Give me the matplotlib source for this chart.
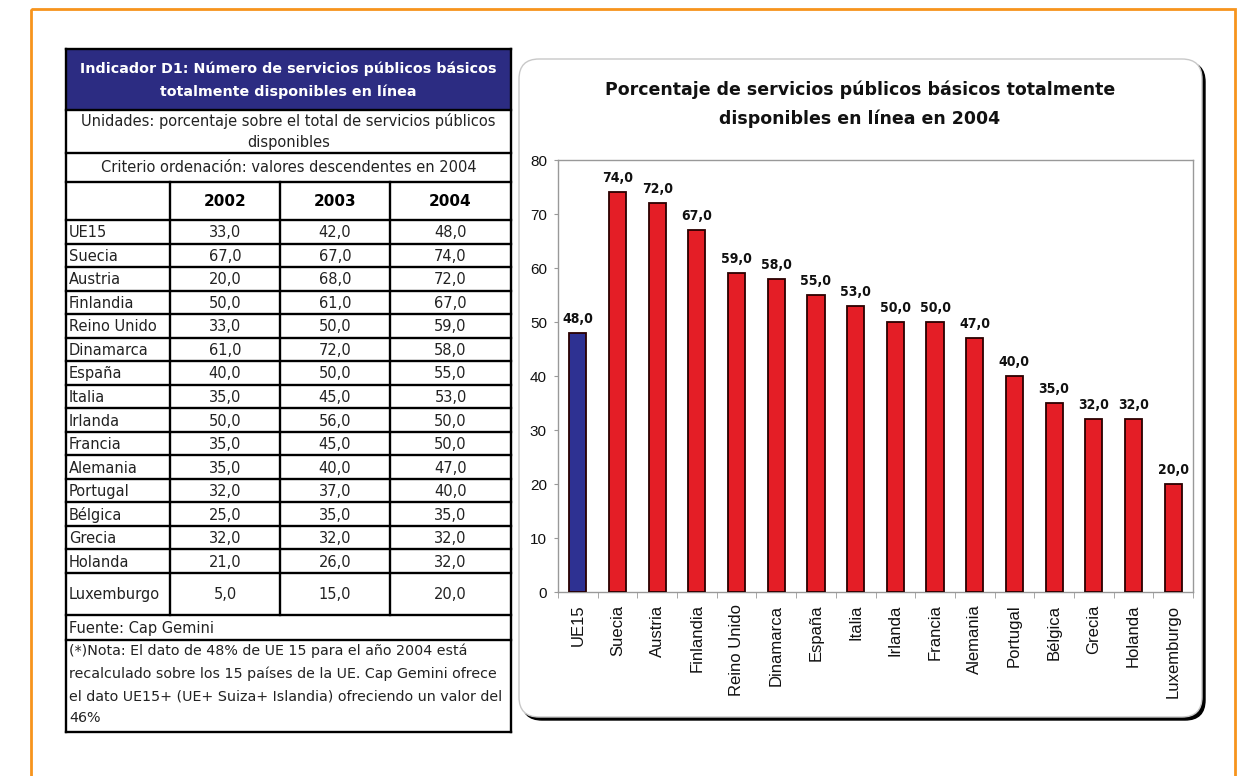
import matplotlib
matplotlib.use("Agg")
import matplotlib.pyplot as plt
from matplotlib.patches import Rectangle, FancyBboxPatch

# data
countries = ["UE15", "Suecia", "Austria", "Finlandia", "Reino Unido", "Dinamarca",
             "España", "Italia", "Irlanda", "Francia", "Alemania", "Portugal",
             "Bélgica", "Grecia", "Holanda", "Luxemburgo"]
v2002 = [33, 67, 20, 50, 33, 61, 40, 35, 50, 35, 35, 32, 25, 32, 21, 5]
v2003 = [42, 67, 68, 61, 50, 72, 50, 45, 56, 45, 40, 37, 35, 32, 26, 15]
v2004 = [48, 74, 72, 67, 59, 58, 55, 53, 50, 50, 47, 40, 35, 32, 32, 20]
years = ["2002", "2003", "2004"]

table_title = ["Indicador D1: Número de servicios públicos básicos",
               "totalmente disponibles en línea"]
units = ["Unidades: porcentaje sobre el total de servicios públicos",
         "disponibles"]
criterio = "Criterio ordenación: valores descendentes en 2004"
fuente = "Fuente: Cap Gemini"
nota = ["(*)Nota: El dato de 48% de UE 15 para el año 2004 está",
        "recalculado sobre los 15 países de la UE. Cap Gemini ofrece",
        "el dato UE15+ (UE+ Suiza+ Islandia) ofreciendo un valor del",
        "46%"]
chart_title = ["Porcentaje de servicios públicos básicos totalmente",
               "disponibles en línea en 2004"]


def fmt(v):
    return f"{v:.1f}".replace(".", ",")


W, H = 1246, 776
fig = plt.figure(figsize=(W / 100, H / 100), dpi=100)
bg = fig.add_axes([0, 0, 1, 1])
bg.set_xlim(0, W)
bg.set_ylim(H, 0)
bg.axis("off")

# orange frame
bg.add_patch(Rectangle((31, 9), 1204, 900, fill=False, edgecolor="#f7941d", lw=2))

# ---- table ----
col_x = [66, 170, 280, 390, 511]
row_h = 23.53
data_top = 220
rows_y = [49, 110, 153, 182, data_top]
rows_y += [data_top + row_h * (i + 1) for i in range(15)]
rows_y += [615, 640, 732]
lw_t = 1.7

bg.add_patch(Rectangle((col_x[0], 49), col_x[-1] - col_x[0], 61,
                       facecolor="#2c2c82", edgecolor="none"))
for y in rows_y:
    bg.plot([col_x[0], col_x[-1]], [y, y], color="black", lw=lw_t, solid_capstyle="projecting")
for x in (col_x[0], col_x[-1]):
    bg.plot([x, x], [49, 732], color="black", lw=lw_t)
for x in col_x[1:-1]:
    bg.plot([x, x], [182, 615], color="black", lw=lw_t)

mid = (col_x[0] + col_x[-1]) / 2
tfs = 10.5
bg.text(mid, 69, table_title[0], ha="center", va="center", color="white",
        fontweight="bold", fontsize=10.3)
bg.text(mid, 92, table_title[1], ha="center", va="center", color="white",
        fontweight="bold", fontsize=10.3)
bg.text(mid, 121, units[0], ha="center", va="center", fontsize=tfs, color="#222")
bg.text(mid, 142, units[1], ha="center", va="center", fontsize=tfs, color="#222")
bg.text(mid, 168, criterio, ha="center", va="center", fontsize=tfs, color="#222")

col_mid = [(col_x[i] + col_x[i + 1]) / 2 for i in range(1, 4)]
for cx, yr in zip(col_mid, years):
    bg.text(cx, 201, yr, ha="center", va="center", fontweight="bold", fontsize=11)

for i, name in enumerate(countries):
    y0 = rows_y[4 + i]
    y1 = rows_y[5 + i]
    cy = (y0 + y1) / 2 + 1
    bg.text(col_x[0] + 3, cy, name, ha="left", va="center", fontsize=tfs, color="#222")
    for cx, vals in zip(col_mid, (v2002, v2003, v2004)):
        bg.text(cx, cy, fmt(vals[i]), ha="center", va="center", fontsize=tfs, color="#222")

bg.text(col_x[0] + 3, 628, fuente, ha="left", va="center", fontsize=tfs, color="#222")
for k, line in enumerate(nota):
    bg.text(col_x[0] + 3, 651 + k * 22.5, line, ha="left", va="center",
            fontsize=10.3, color="#222")

# ---- chart panel ----
bg.add_patch(FancyBboxPatch((522, 62), 683, 658,
                            boxstyle="round,pad=0,rounding_size=20",
                            facecolor="black", edgecolor="black", lw=1))
bg.add_patch(FancyBboxPatch((519, 59), 683, 658,
                            boxstyle="round,pad=0,rounding_size=20",
                            facecolor="white", edgecolor="#c8c8c8", lw=1))
bg.text(860, 90, chart_title[0], ha="center", va="center", fontweight="bold",
        fontsize=12.5, color="#111")
bg.text(860, 119, chart_title[1], ha="center", va="center", fontweight="bold",
        fontsize=12.5, color="#111")

ax = fig.add_axes([558 / W, 1 - 592 / H, (1193 - 558) / W, (592 - 160) / H])
ax.set_facecolor("white")
x = list(range(len(countries)))
colors = ["#2e3192"] + ["#e41e26"] * (len(countries) - 1)
bars = ax.bar(x, v2004, width=0.43, color=colors, edgecolor="#2a0000", lw=1.3, zorder=3)
for b, v in zip(bars, v2004):
    ax.annotate(fmt(v), (b.get_x() + b.get_width() / 2, v), xytext=(0, 5),
                textcoords="offset points", ha="center", va="bottom",
                fontweight="bold", fontsize=10, color="#111",
                fontstretch="condensed", family=["DejaVu Sans"])

ax.set_xlim(-0.5, len(countries) - 0.5)
ax.set_ylim(0, 80)
ax.set_yticks(range(0, 81, 10))
ax.set_xticks(x)
ax.set_xticklabels(countries, rotation=90, fontsize=12,
                   family=["Liberation Sans", "DejaVu Sans"])
ax.set_xticks([i + 0.5 for i in range(-1, len(countries))], minor=True)
ax.tick_params(axis="x", which="major", length=0, pad=9, colors="#111")
ax.tick_params(axis="x", which="minor", length=4, color="#999999")
ax.tick_params(axis="y", length=3, color="#999999", pad=5, labelsize=11, labelcolor="#111")
for lab in ax.get_yticklabels():
    lab.set_family(["Liberation Sans", "DejaVu Sans"])
for s in ax.spines.values():
    s.set_color("#999999")
    s.set_linewidth(1)

fig.savefig("out.png", dpi=100)
